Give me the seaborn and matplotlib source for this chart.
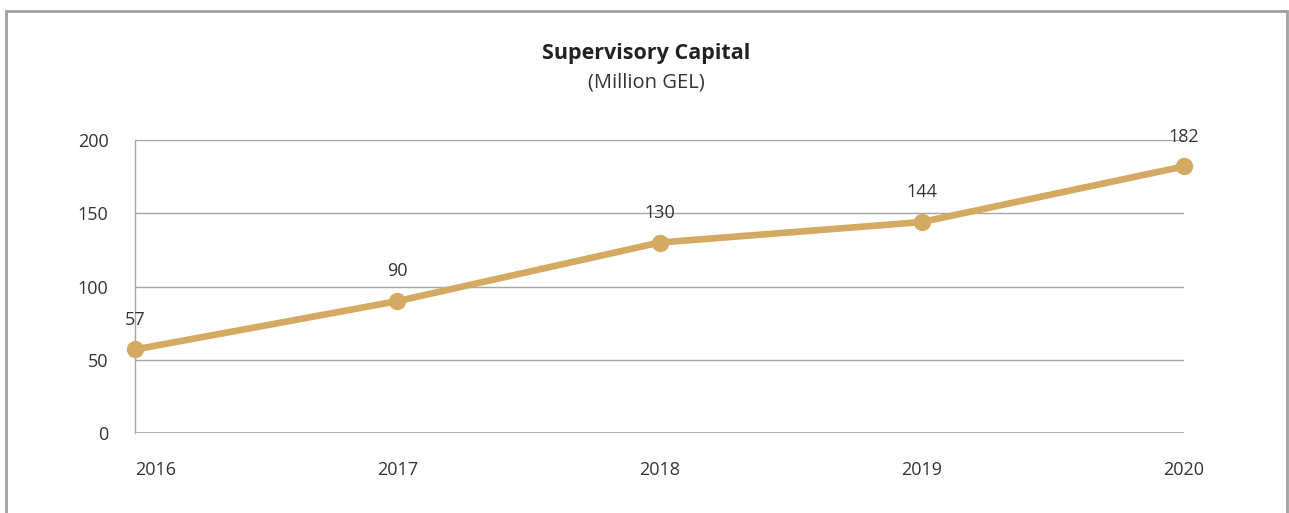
import matplotlib
matplotlib.use("Agg")
import matplotlib.pyplot as plt
import seaborn as sns
import pandas as pd
from matplotlib.patches import Rectangle

years = [2016, 2017, 2018, 2019, 2020]
capital = [57, 90, 130, 144, 182]
y_ticks = [0, 50, 100, 150, 200]

title = "Supervisory Capital"
subtitle = "(Million GEL)"

line_color = "#D4AA63"
grid_color = "#A6A6A6"
text_color = "#333333"

sns.set_theme(style="white")
plt.rcParams["font.family"] = ["Open Sans", "DejaVu Sans"]

df = pd.DataFrame({"year": years, "capital": capital})

W, H = 1289, 513
fig = plt.figure(figsize=(W / 100, H / 100), dpi=100)
ax = fig.add_axes([135 / W, 1 - 433 / H, (1184 - 135) / W, (433 - 140) / H])

sns.lineplot(data=df, x="year", y="capital", ax=ax, color=line_color,
             linewidth=4.8, marker="o", markersize=12.5, markeredgewidth=0,
             clip_on=False, zorder=3)

ax.set_xlim(years[0], years[-1])
ax.set_ylim(0, 200)
ax.set_yticks(y_ticks)
ax.set_xticks(years)
ax.set_xticklabels([str(y) for y in years])
for i, lbl in enumerate(ax.get_xticklabels()):
    if i == 0:
        lbl.set_horizontalalignment("left")
ax.tick_params(axis="both", length=0, labelsize=13, colors=text_color)
ax.tick_params(axis="x", pad=20)
ax.tick_params(axis="y", pad=19)
ax.set_xlabel("")
ax.set_ylabel("")

ax.yaxis.grid(True, color=grid_color, linewidth=1)
ax.xaxis.grid(False)
for side in ["top", "right", "bottom"]:
    ax.spines[side].set_visible(False)
ax.spines["left"].set_color(grid_color)
ax.spines["left"].set_linewidth(1)
ax.axhline(0, color=grid_color, linewidth=1.2, zorder=1)

for x, v in zip(years, capital):
    ax.annotate(f"{v}", (x, v), xytext=(0, 15), textcoords="offset points",
                ha="center", va="bottom", fontsize=13, color=text_color,
                annotation_clip=False)

fig.text(646 / W, 1 - 53 / H, title, ha="center", va="center",
         fontsize=15.5, fontweight="bold", color="#222222")
fig.text(646 / W, 1 - 83 / H, subtitle, ha="center", va="center",
         fontsize=14.5, color=text_color)

fig.patches.append(Rectangle((6 / W, -0.1), (1287 - 6) / W, 1 - 11 / H + 0.1,
                             transform=fig.transFigure, fill=False,
                             edgecolor="#A0A0A0", linewidth=2))

fig.savefig("out.png", dpi=100)
